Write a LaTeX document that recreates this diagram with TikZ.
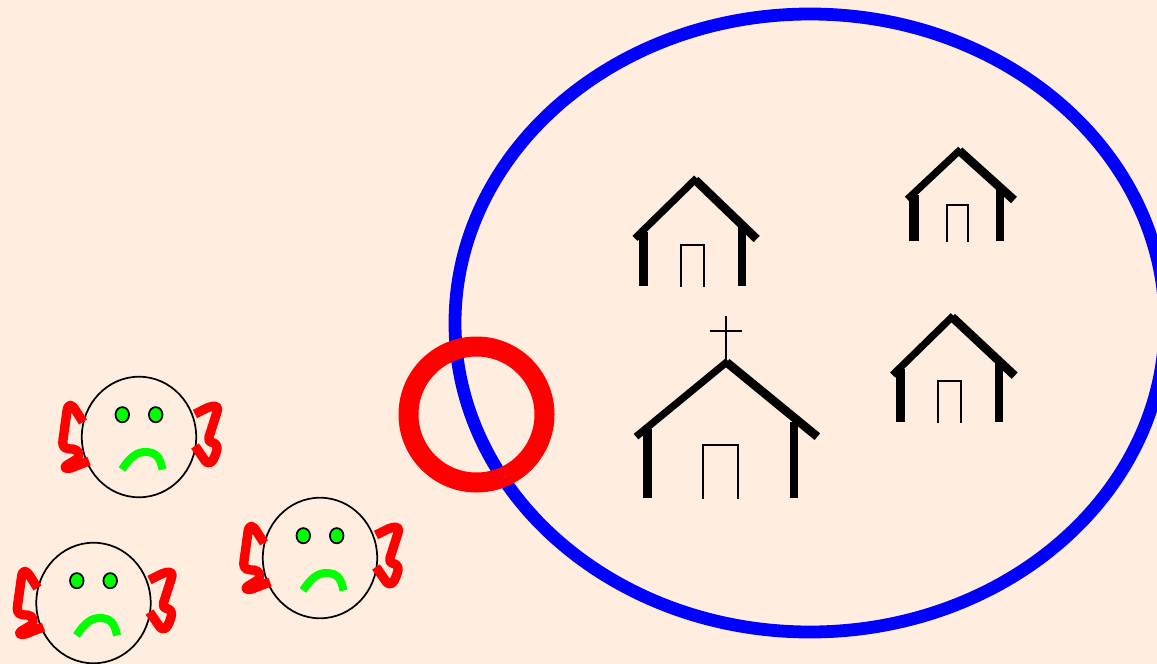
\documentclass[tikz,border=0pt]{standalone}
\definecolor{bgc}{RGB}{255,238,224}
\definecolor{grn}{RGB}{0,255,0}
\newcommand{\facepic}[2]{%
\begin{scope}[shift={(#1,#2)}]
\draw[faceline] (0,0) ellipse [x radius=57.2,y radius=60.3];
\draw[faceline,fill=grn] (-16.7,-22.3) ellipse [x radius=6.8,y radius=7.6];
\draw[faceline,fill=grn] (16.7,-22.3) ellipse [x radius=6.8,y radius=7.6];
\draw[mouthline] (-17,32.5) .. controls (-9,20) and (-2,15) .. (6,15) .. controls (17,15) and (21,20) .. (23.5,32.5);
\draw[earline] (-56,-15) -- (-63,-26) .. controls (-67,-33) and (-71,-34) .. (-72,-26) -- (-76,3) .. controls (-77,11) and (-74,12) .. (-66,12) .. controls (-60,13) and (-59,18) .. (-62,22) -- (-72,28) .. controls (-76,31) and (-73,32) .. (-68,31) -- (-50,24);
\draw[earline] (56,-23) -- (68,-29) .. controls (76,-32) and (80,-32) .. (78,-25) -- (70,0) .. controls (69,5) and (72,5) .. (75,6) .. controls (78,8) and (79,10) .. (77,16) .. controls (74,25) and (70,30) .. (65,22) -- (56,9);
\end{scope}}
\tikzset{
 faceline/.style={draw=black,line width=1.3pt},
 mouthline/.style={draw=grn,line width=6pt},
 earline/.style={draw=red,line width=7pt,line join=round},
 rooff/.style={draw=black,line width=5.4pt},
 roofr/.style={draw=black,line width=6.5pt},
 walll/.style={draw=black,line width=6.8pt},
 wallr/.style={draw=black,line width=5.8pt},
 doorline/.style={draw=black,line width=1.4pt},
 crossline/.style={draw=black,line width=1.4pt},
}
\begin{document}
\begin{tikzpicture}[x=0.75pt,y=-0.75pt,line cap=butt]
\useasboundingbox (0,0) rectangle (1157,664);
\fill[bgc] (0,0) rectangle (1157,664);
\clip (0,0) rectangle (1157,664);
\draw[blue,line width=9.6pt] (810,323) ellipse [x radius=355,y radius=309];
\draw[red,line width=15pt] (476.5,414.5) circle [radius=68];
\facepic{139}{437}
\facepic{93.5}{603}
\facepic{320}{558}
\begin{scope}[shift={(620,140)},x=0.25pt,y=-0.25pt]
% upper left house
\draw[rooff] (45,295) -- (230,114);
\draw[roofr] (226,120) -- (410,297);
\draw[walll] (70,275) -- (70,438);
\draw[wallr] (365,258) -- (365,438);
\draw[doorline] (182,440) -- (182,315) -- (252,315) -- (252,440);
% upper right house
\draw[rooff] (862,178) -- (1022,28);
\draw[roofr] (1018,32) -- (1182,180);
\draw[walll] (882,165) -- (882,302);
\draw[wallr] (1141,148) -- (1141,302);
\draw[doorline] (982,305) -- (982,196) -- (1043,196) -- (1043,305);
% lower right house
\draw[rooff] (818,705) -- (1000,527);
\draw[roofr] (996,531) -- (1184,707);
\draw[walll] (841,688) -- (841,846);
\draw[wallr] (1136,665) -- (1136,846);
\draw[doorline] (953,848) -- (953,722) -- (1024,722) -- (1024,848);
% church
\draw[rooff] (48,890) -- (324,663);
\draw[roofr] (320,667) -- (592,890);
\draw[walll] (82,868) -- (82,1074);
\draw[wallr] (523,845) -- (523,1074);
\draw[doorline] (250,1076) -- (250,915) -- (354,915) -- (354,1076);
\draw[crossline] (319,527) -- (319,662);
\draw[crossline] (270,573) -- (366,573);
\end{scope}
\end{tikzpicture}
\end{document}
